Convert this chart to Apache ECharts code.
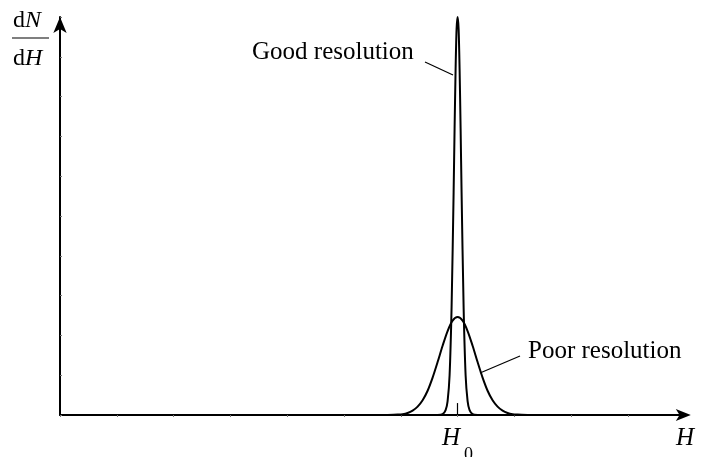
<!DOCTYPE html>
<html>
<head>
<meta charset="utf-8">
<script src="https://cdn.jsdelivr.net/npm/echarts@6/dist/echarts.min.js"></script>
<style>
  html, body { margin: 0; padding: 0; background: #fff; }
  #chart { width: 707px; height: 457px; }
</style>
</head>
<body>
<div id="chart"></div>
<script>
// Field H (axis units) and distribution dN/dH for the sharp peak
const goodH = [6.648, 6.736, 6.789, 6.824, 6.859, 6.894, 6.930, 6.947, 6.965, 6.982, 7.000,
               7.018, 7.035, 7.053, 7.070, 7.106, 7.141, 7.176, 7.211, 7.264, 7.352];
const goodN = [0, 0.02, 0.12, 0.35, 1.0, 2.7, 5.6, 7.2, 8.7, 9.7, 10.0,
               9.7, 8.7, 7.2, 5.6, 2.7, 1.0, 0.35, 0.12, 0.02, 0];

// Broad peak
const poorH = [5.768, 5.944, 6.032, 6.120, 6.208, 6.296, 6.384, 6.472, 6.560, 6.648, 6.736, 6.824, 6.912, 7.000,
               7.088, 7.176, 7.264, 7.352, 7.440, 7.528, 7.616, 7.704, 7.792, 7.880, 7.968, 8.056, 8.232];
const poorN = [0, 0.01, 0.02, 0.05, 0.11, 0.21, 0.37, 0.61, 0.94, 1.33, 1.74, 2.11, 2.37, 2.46,
               2.37, 2.11, 1.74, 1.33, 0.94, 0.61, 0.37, 0.21, 0.11, 0.05, 0.02, 0.01, 0];

const H0 = 7.0;
const xMax = 11, yMax = 10;

const pairs = (xs, ys) => xs.map((x, i) => [x, ys[i]]);

const serif = '"Liberation Serif", "DejaVu Serif", serif';
const chart = echarts.init(document.getElementById('chart'), null, { renderer: 'canvas' });

chart.setOption({
  animation: false,
  grid: { left: 60, top: 17, width: 624.8, height: 398 },
  xAxis: {
    type: 'value', min: 0, max: xMax, interval: 1,
    axisLine: { show: true, lineStyle: { color: '#000', width: 2 },
      symbol: ['none', 'arrow'], symbolSize: [9, 15], symbolOffset: [0, 6] },
    axisTick: { show: true, inside: false, length: 2, lineStyle: { color: '#777', width: 1 } },
    axisLabel: { show: false },
    splitLine: { show: false }
  },
  yAxis: {
    type: 'value', min: 0, max: yMax, interval: 1,
    axisLine: { show: true, lineStyle: { color: '#000', width: 2 },
      symbol: ['none', 'arrow'], symbolSize: [10, 16], symbolOffset: [0, 0] },
    axisTick: { show: true, inside: true, length: 2, lineStyle: { color: '#777', width: 1 } },
    axisLabel: { show: false },
    splitLine: { show: false }
  },
  series: [
    {
      type: 'line', data: pairs(goodH, goodN), showSymbol: false, clip: false, smooth: 0.25,
      lineStyle: { color: '#000', width: 2 },
      markLine: {
        silent: true, symbol: ['none', 'none'], label: { show: false },
        lineStyle: { color: '#000', width: 1.2, type: 'solid' },
        data: [[{ coord: [H0, 0] }, { coord: [H0, 0.3] }]]
      }
    },
    {
      type: 'line', data: pairs(poorH, poorN), showSymbol: false, clip: false, smooth: 0.3,
      lineStyle: { color: '#000', width: 2 }
    }
  ],
  graphic: [
    { type: 'text', left: 13, top: 9, style: { text: '{r|d}{i|N}', fill: '#000',
      rich: { r: { fontFamily: serif, fontSize: 24 }, i: { fontFamily: serif, fontSize: 24, fontStyle: 'italic' } } } },
    { type: 'line', shape: { x1: 12, y1: 38, x2: 49, y2: 38 }, style: { stroke: '#000', lineWidth: 1.2 } },
    { type: 'text', left: 13, top: 47, style: { text: '{r|d}{i|H}', fill: '#000',
      rich: { r: { fontFamily: serif, fontSize: 24 }, i: { fontFamily: serif, fontSize: 24, fontStyle: 'italic' } } } },

    { type: 'text', x: 252, y: 52.6, style: { text: 'Good resolution', fill: '#000',
      font: '25px ' + serif, verticalAlign: 'middle' } },
    { type: 'line', shape: { x1: 425, y1: 62, x2: 453, y2: 75 }, style: { stroke: '#000', lineWidth: 1.2 } },

    { type: 'text', x: 528, y: 351.6, style: { text: 'Poor resolution', fill: '#000',
      font: '25px ' + serif, verticalAlign: 'middle' } },
    { type: 'line', shape: { x1: 520, y1: 356, x2: 480, y2: 373 }, style: { stroke: '#000', lineWidth: 1.2 } },

    { type: 'text', x: 676, y: 438.6, style: { text: 'H', fill: '#000',
      font: 'italic 25px ' + serif, verticalAlign: 'middle' } },
    { type: 'text', x: 442, y: 438.6, style: { text: 'H', fill: '#000',
      font: 'italic 25px ' + serif, verticalAlign: 'middle' } },
    { type: 'text', x: 464, y: 455, style: { text: '0', fill: '#000',
      font: '18px ' + serif, verticalAlign: 'middle' } }
  ]
});
</script>
</body>
</html>
